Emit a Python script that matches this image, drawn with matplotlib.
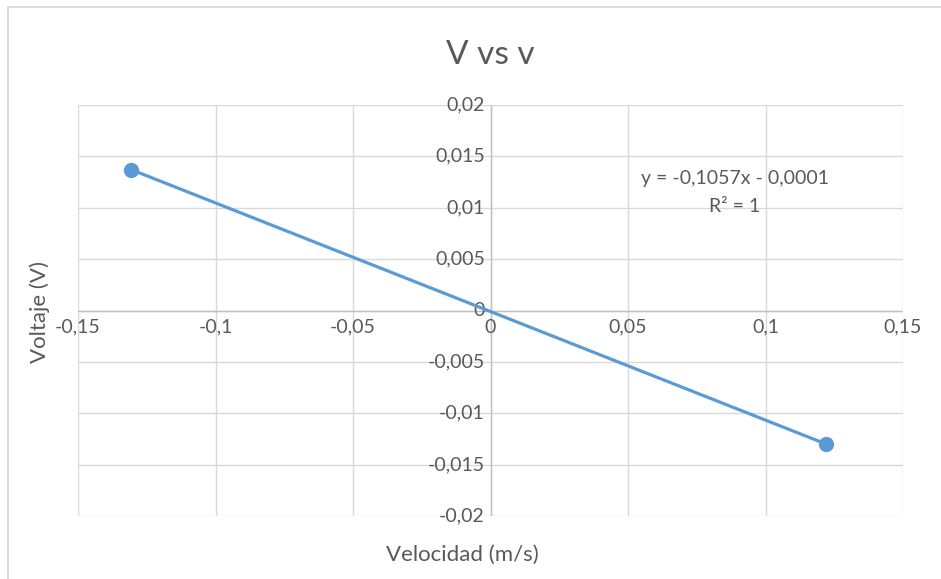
import matplotlib
matplotlib.use("Agg")
import matplotlib.pyplot as plt
import numpy as np
from matplotlib.lines import Line2D

plt.rcParams['font.family'] = ['Lato', 'DejaVu Sans']

# Data
velocidad = [-0.1307, 0.1220]
voltaje = [0.01372, -0.01300]
x_ticks = [-0.15, -0.10, -0.05, 0.0, 0.05, 0.10, 0.15]
x_labels = ["-0,15", "-0,1", "-0,05", "0", "0,05", "0,1", "0,15"]
y_ticks = [-0.02, -0.015, -0.01, -0.005, 0.0, 0.005, 0.01, 0.015, 0.02]
y_labels = ["-0,02", "-0,015", "-0,01", "-0,005", "0", "0,005", "0,01", "0,015", "0,02"]
slope, intercept = -0.1057, -0.0001
eq_text = "y = -0,1057x - 0,0001"
r2_text = "R² = 1"

W, H = 941, 579
fig = plt.figure(figsize=(W / 100, H / 100), dpi=100)
fig.patch.set_facecolor("white")

L, R, T, B = 78, 903, 105, 516
ax = fig.add_axes([L / W, 1 - B / H, (R - L) / W, (B - T) / H])
ax.set_xlim(-0.15, 0.15)
ax.set_ylim(-0.02, 0.02)
for s in ax.spines.values():
    s.set_visible(False)

grid_c = "#d9d9d9"
for xv in x_ticks:
    ax.axvline(xv, color=grid_c, lw=1.0, zorder=0)
for yv in y_ticks:
    ax.axhline(yv, color=grid_c, lw=1.0, zorder=0)
ax.axvline(0, color="#bfbfbf", lw=1.0, zorder=1)
ax.axhline(0, color="#bfbfbf", lw=1.0, zorder=1)

ax.set_xticks([])
ax.set_yticks([])

txt_c = "#595959"
for xv, lab in zip(x_ticks, x_labels):
    ax.annotate(lab, xy=(xv, 0), xytext=(0, -6), textcoords="offset points",
                ha="center", va="top", fontsize=14, color=txt_c)
for yv, lab in zip(y_ticks, y_labels):
    ax.annotate(lab, xy=(0, yv), xytext=(-4, 0), textcoords="offset points",
                ha="right", va="center", fontsize=14, color=txt_c)

line_c = "#5b9bd5"
xs = np.array(velocidad)
ax.plot(xs, slope * xs + intercept, color=line_c, lw=2.3, zorder=3, solid_capstyle="butt")
ax.plot(velocidad, voltaje, linestyle="none", marker="o", markersize=10,
        color=line_c, zorder=4)

ax.text(0.0889, 0.0128, eq_text, ha="center", va="center", fontsize=14, color=txt_c)
ax.text(0.0889, 0.0101, r2_text, ha="center", va="center", fontsize=14, color=txt_c)

fig.text(490 / W, 1 - 55 / H, "V vs v", ha="center", va="center", fontsize=24, color=txt_c)
fig.text(462 / W, 1 - 555 / H, "Velocidad (m/s)", ha="center", va="center", fontsize=16, color=txt_c)
fig.text(40 / W, 1 - 312 / H, "Voltaje (V)", ha="center", va="center", rotation=90, fontsize=16, color=txt_c)

# chart border (left and top visible)
fig.add_artist(Line2D([8 / W, 8 / W], [0, 1 - 7 / H], transform=fig.transFigure, color="#d9d9d9", lw=1.3))
fig.add_artist(Line2D([8 / W, 1], [1 - 7 / H, 1 - 7 / H], transform=fig.transFigure, color="#d9d9d9", lw=1.3))

fig.savefig("out.png", dpi=100, facecolor="white")
